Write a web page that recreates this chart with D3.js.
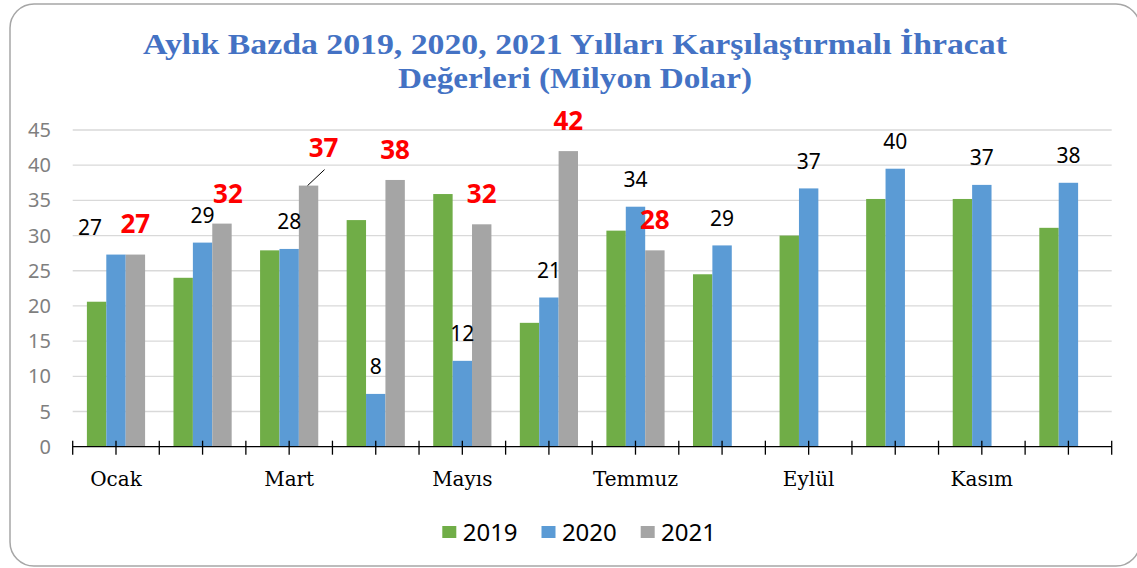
<!DOCTYPE html>
<meta charset="utf-8">
<head>
  <title>Aylık İhracat</title>
</head>

<style>
  body { margin: 0; background: #fff; }
</style>

<body>

  <div id="my_dataviz"></div>

  <script src="https://d3js.org/d3.v7.min.js"></script>
  <script>

  // data (million dollars)
  var months = ["Ocak", "Şubat", "Mart", "Nisan", "Mayıs", "Haziran", "Temmuz",
                "Ağustos", "Eylül", "Ekim", "Kasım", "Aralık"];
  var years = ["2019", "2020", "2021"];
  var values2019 = [20.6, 24.0, 27.9, 32.2, 35.9, 17.6, 30.7, 24.5, 30.0, 35.2, 35.2, 31.1];
  var values2020 = [27.3, 29.0, 28.1, 7.5, 12.2, 21.2, 34.1, 28.6, 36.7, 39.5, 37.2, 37.5];
  var values2021 = [27.3, 31.7, 37.1, 37.9, 31.6, 42.0, 27.9, null, null, null, null, null];
  var yTicks = [0, 5, 10, 15, 20, 25, 30, 35, 40, 45];
  var shownMonths = ["Ocak", "Mart", "Mayıs", "Temmuz", "Eylül", "Kasım"];

  var colors = {"2019": "#70ad47", "2020": "#5b9bd5", "2021": "#a5a5a5"};

  // hand moved labels (layout only)
  var nudge2020 = {"Ocak": [-26, 0]};
  var nudge2021 = {"Ocak": [0, -1], "Şubat": [6, 0], "Mart": [15, -8]};

  var width = 1137, height = 568;
  var plot = {left: 72.7, right: 1111.7, top: 130, bottom: 446.7};

  var svg = d3.select("#my_dataviz")
    .append("svg")
      .attr("width", width)
      .attr("height", height);

  // chart frame
  svg.append("rect")
    .attr("x", 10).attr("y", 4)
    .attr("width", 1130).attr("height", 562)
    .attr("rx", 24).attr("ry", 24)
    .style("fill", "#fff")
    .style("stroke", "#a6a6a6")
    .style("stroke-width", 1.5);

  // title
  var title = svg.append("text")
    .attr("text-anchor", "middle")
    .style("font-family", "Liberation Serif")
    .style("font-weight", "bold")
    .style("font-size", "30px")
    .style("fill", "#4472c4");
  title.append("tspan").attr("x", 575).attr("y", 54)
    .attr("textLength", 864).attr("lengthAdjust", "spacingAndGlyphs")
    .text("Aylık Bazda 2019, 2020, 2021 Yılları Karşılaştırmalı İhracat");
  title.append("tspan").attr("x", 575).attr("y", 88)
    .attr("textLength", 354).attr("lengthAdjust", "spacingAndGlyphs")
    .text("Değerleri (Milyon Dolar)");

  // scales
  var x = d3.scaleBand()
    .domain(months)
    .range([plot.left, plot.right]);

  var xSub = d3.scaleBand()
    .domain(years)
    .range([0, x.bandwidth()])
    .paddingOuter(0.732);

  var y = d3.scaleLinear()
    .domain([0, 45])
    .range([plot.bottom, plot.top]);

  // gridlines
  svg.append("g")
    .selectAll("line")
    .data(yTicks.slice(1))
    .enter()
    .append("line")
      .attr("x1", plot.left).attr("x2", plot.right)
      .attr("y1", function(d) { return y(d); })
      .attr("y2", function(d) { return y(d); })
      .style("stroke", "#d9d9d9")
      .style("stroke-width", 1.3);

  // y labels
  svg.append("g")
    .selectAll("text")
    .data(yTicks)
    .enter()
    .append("text")
      .attr("x", 51)
      .attr("y", function(d) { return y(d) + 7; })
      .attr("text-anchor", "end")
      .style("font-family", "Noto Sans")
      .style("font-size", "20px")
      .style("fill", "#7f7f7f")
      .text(function(d) { return d; });

  // bars
  var series = [values2019, values2020, values2021];
  var barData = [];
  months.forEach(function(m, i) {
    years.forEach(function(yr, j) {
      if (series[j][i] != null) barData.push({month: m, year: yr, value: series[j][i]});
    });
  });

  svg.append("g")
    .selectAll("rect")
    .data(barData)
    .enter()
    .append("rect")
      .attr("x", function(d) { return x(d.month) + xSub(d.year); })
      .attr("y", function(d) { return y(d.value); })
      .attr("width", xSub.bandwidth())
      .attr("height", function(d) { return y(0) - y(d.value); })
      .style("fill", function(d) { return colors[d.year]; });

  // x axis line and ticks
  var axis = svg.append("g");
  axis.append("line")
    .attr("x1", plot.left).attr("x2", plot.right)
    .attr("y1", y(0)).attr("y2", y(0))
    .style("stroke", "#000")
    .style("stroke-width", 1.3);

  var tickPos = [];
  months.forEach(function(m) {
    tickPos.push(x(m));
    tickPos.push(x(m) + x.bandwidth() / 2);
  });
  tickPos.push(plot.right);

  axis.selectAll(".tick")
    .data(tickPos)
    .enter()
    .append("line")
      .attr("x1", function(d) { return d; })
      .attr("x2", function(d) { return d; })
      .attr("y1", y(0) - 6)
      .attr("y2", y(0) + 8)
      .style("stroke", "#000")
      .style("stroke-width", 1.3);

  axis.selectAll(".lab")
    .data(shownMonths)
    .enter()
    .append("text")
      .attr("x", function(d) { return x(d) + x.bandwidth() / 2; })
      .attr("y", 486)
      .attr("text-anchor", "middle")
      .style("font-family", "DejaVu Serif")
      .style("font-size", "20px")
      .style("fill", "#000")
      .text(function(d) { return d; });

  // 2020 data labels
  svg.append("g")
    .selectAll("text")
    .data(barData.filter(function(d) { return d.year === "2020"; }))
    .enter()
    .append("text")
      .attr("x", function(d) {
        var n = nudge2020[d.month] || [0, 0];
        return x(d.month) + xSub(d.year) + xSub.bandwidth() / 2 + n[0];
      })
      .attr("y", function(d) {
        var n = nudge2020[d.month] || [0, 0];
        return y(d.value) - 19.5 + n[1];
      })
      .attr("text-anchor", "middle")
      .style("font-family", "Noto Sans")
      .style("font-size", "21px")
      .style("fill", "#000")
      .text(function(d) { return Math.round(d.value); });

  // 2021 data labels
  var lab21 = svg.append("g");
  var data21 = barData.filter(function(d) { return d.year === "2021"; });
  lab21.selectAll("text")
    .data(data21)
    .enter()
    .append("text")
      .attr("x", function(d) {
        var n = nudge2021[d.month] || [0, 0];
        return x(d.month) + xSub(d.year) + xSub.bandwidth() / 2 + n[0];
      })
      .attr("y", function(d) {
        var n = nudge2021[d.month] || [0, 0];
        return y(d.value) - 21 + n[1];
      })
      .attr("text-anchor", "middle")
      .style("font-family", "Noto Sans")
      .style("font-weight", "bold")
      .style("font-size", "26px")
      .style("fill", "#ff0000")
      .text(function(d) { return Math.round(d.value); });

  // leader line for the moved Mart label
  var mart = data21.filter(function(d) { return d.month === "Mart"; })[0];
  var mx = x(mart.month) + xSub(mart.year) + xSub.bandwidth() / 2;
  lab21.append("line")
    .attr("x1", mx - 1).attr("y1", y(mart.value))
    .attr("x2", mx + 16).attr("y2", y(mart.value) - 16)
    .style("stroke", "#000")
    .style("stroke-width", 1);

  // legend
  var legend = svg.append("g")
    .selectAll("g")
    .data(years)
    .enter()
    .append("g")
      .attr("transform", function(d, i) { return "translate(" + (442.3 + i * 99.2) + ",526)"; });
  legend.append("rect")
    .attr("width", 14).attr("height", 12)
    .style("fill", function(d) { return colors[d]; });
  legend.append("text")
    .attr("x", 20.4).attr("y", 14.7)
    .style("font-family", "Noto Sans")
    .style("font-size", "24px")
    .style("fill", "#000")
    .text(function(d) { return d; });

  </script>
</body>
</html>
